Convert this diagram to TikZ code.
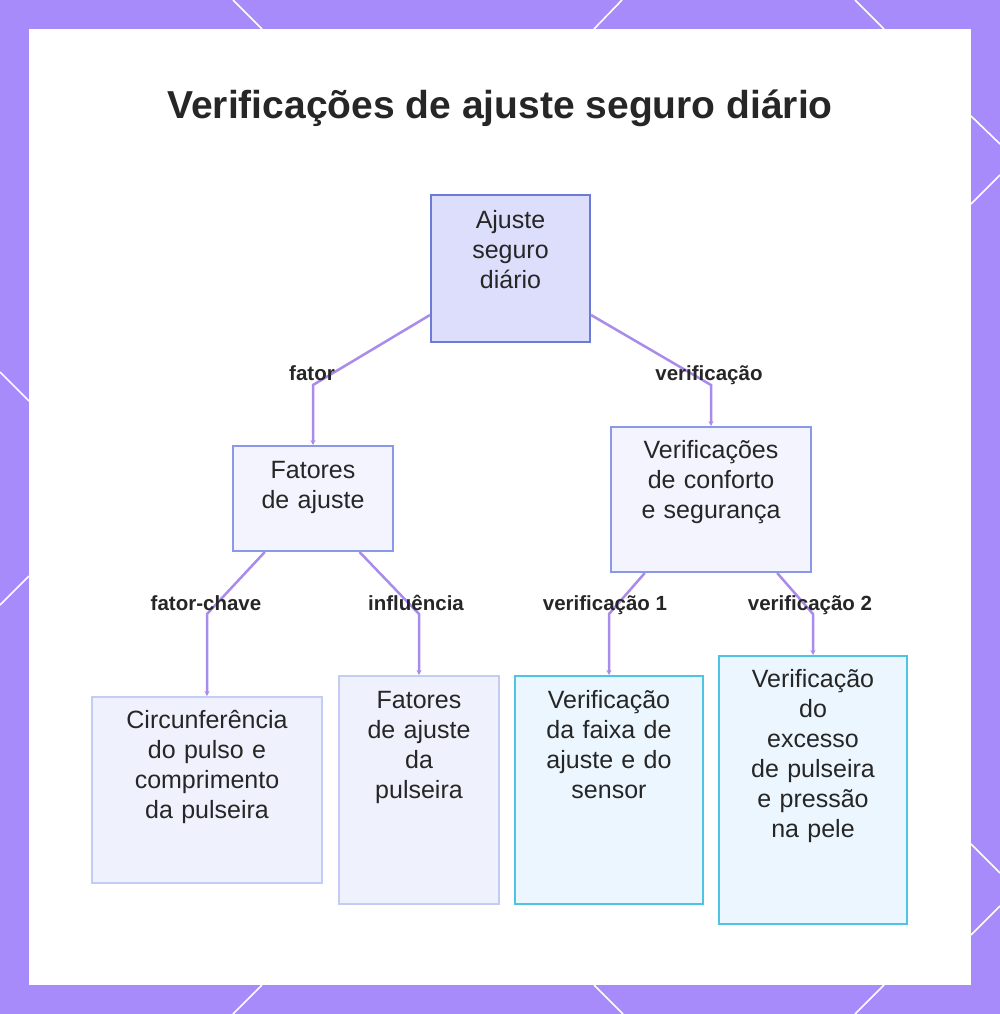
\documentclass[tikz,border=0pt]{standalone}
\usepackage{fontspec}
\setmainfont{Liberation Sans}
\usepackage{tikz}
\definecolor{framepurple}{HTML}{A78BFA}
\definecolor{linkpurple}{HTML}{A88BEA}
\definecolor{rootfill}{HTML}{DCDEFB}
\definecolor{rootdraw}{HTML}{6C7BD5}
\definecolor{midfill}{HTML}{F3F4FE}
\definecolor{middraw}{HTML}{8A98EA}
\definecolor{leaffill}{HTML}{EFF2FD}
\definecolor{leafdraw}{HTML}{C4CCF3}
\definecolor{checkfill}{HTML}{EBF6FE}
\definecolor{checkdraw}{HTML}{4EC3E2}
\definecolor{inktext}{HTML}{262626}
\usetikzlibrary{arrows.meta}

\begin{document}
\begin{tikzpicture}[x=1pt, y=-1pt,
	box/.style={draw, rectangle, align=center, inner sep=0pt, line width=2pt, text=inktext, font=\fontsize{25}{30}\selectfont},
	rootbox/.style={box, fill=rootfill, draw=rootdraw},
	midbox/.style={box, fill=midfill, draw=middraw},
	leafbox/.style={box, fill=leaffill, draw=leafdraw},
	checkbox/.style={box, fill=checkfill, draw=checkdraw},
	link/.style={draw=linkpurple, line width=2.5pt, -{Stealth[length=5pt, width=5pt]}},
	edgelbl/.style={anchor=base, text=inktext, font=\bfseries\fontsize{20.5}{23}\selectfont},
	frameline/.style={draw=white, line width=1.6pt}]

	% frame and panel
	\useasboundingbox (0,0) rectangle (1000,1014);
	\fill[framepurple] (0,0) rectangle (1000,1014);
	\foreach \xa/\ya/\xb/\yb in {233/0/262/29, 622/0/594/29, 855/0/884/29,
		262/985/233/1014, 594/985/623/1014, 884/985/855/1014,
		0/372/29/401, 0/605/29/576,
		971/116/1000/144, 971/204/1000/175, 971/844/1000/873, 971/935/1000/906}
		\draw[frameline] (\xa,\ya) -- (\xb,\yb);
	\fill[white] (29,29) rectangle (971,985);

	\node[anchor=base, text=inktext, font=\bfseries\fontsize{39}{45}\selectfont] (title) at (500,119) {Verificações de ajuste seguro diário};

	\node[rootbox, text width=159pt, text height=33pt, text depth=114pt] (root) at (510.5,268.5) {Ajuste\\seguro\\diário};

	\node[midbox, text width=160pt, text height=32pt, text depth=73pt] (fat) at (313,498.5) {Fatores\\de ajuste};
	\node[midbox, text width=200pt, text height=31pt, text depth=114pt] (conf) at (711,499.5) {Verificações\\de conforto\\e segurança};

	\node[leafbox, text width=230pt, text height=31pt, text depth=155pt] (circ) at (207,790) {Circunferência\\do pulso e\\comprimento\\da pulseira};
	\node[leafbox, text width=160pt, text height=32pt, text depth=196pt] (fpul) at (419,790) {Fatores\\de ajuste\\da\\pulseira};
	\node[checkbox, text width=188pt, text height=32pt, text depth=196pt] (vfaixa) at (609,790) {Verificação\\da faixa de\\ajuste e do\\sensor};
	\node[checkbox, text width=188pt, text height=31pt, text depth=237pt] (vexc) at (813,790) {Verificação\\do\\excesso\\de pulseira\\e pressão\\na pele};

	% bends of the connectors
	\coordinate (kFator) at (313,385);
	\coordinate (kVerif) at (711,385);
	\coordinate (kChave) at (207,614);
	\coordinate (kInfl) at (419,614);
	\coordinate (kVerifA) at (609,614);
	\coordinate (kVerifB) at (813,614);

	\draw[link] (root.210) -- (kFator) -- (fat);
	\draw[link] (root.330) -- (kVerif) -- (conf);
	\draw[link] (fat.228) -- (kChave) -- (circ);
	\draw[link] (fat.311) -- (kInfl) -- (fpul);
	\draw[link] (conf.228) -- (kVerifA) -- (vfaixa);
	\draw[link] (conf.312) -- (kVerifB) -- (vexc);

	\node[edgelbl] (lFator) at (312,380) {fator};
	\node[edgelbl] (lVerif) at (709,380) {verificação};
	\node[edgelbl] (lChave) at (206,610) {fator-chave};
	\node[edgelbl] (lInfl) at (416,610) {influência};
	\node[edgelbl] (lVerifA) at (605,610) {verificação 1};
	\node[edgelbl] (lVerifB) at (810,610) {verificação 2};
\end{tikzpicture}
\end{document}
